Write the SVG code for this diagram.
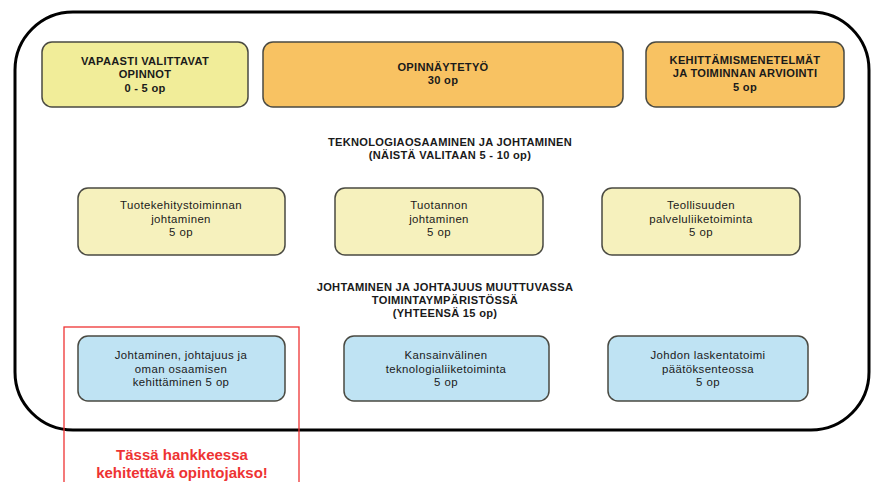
<svg xmlns="http://www.w3.org/2000/svg" width="873" height="482" viewBox="0 0 873 482">
<style>
.box{stroke:#4a4a42;stroke-width:1.5}
.y1{fill:#f1ed99}
.or{fill:#f8c262}
.y2{fill:#f6f1bd}
.bl{fill:#bfe3f3}
text{font-family:"Liberation Sans",Arial,sans-serif;font-size:11.4px;letter-spacing:0.4px;fill:#1a1a1a;text-anchor:middle}
.b{font-weight:bold;font-size:11.1px;letter-spacing:0.3px}
.red{fill:#ee3333;font-weight:bold;font-size:15px;letter-spacing:0}
</style>
<rect width="873" height="482" fill="#ffffff"/>
<rect id="frame" x="15" y="12" width="854" height="418" rx="58" ry="58" fill="none" stroke="#000" stroke-width="3"/>
<g id="n1"><rect class="box y1" x="42" y="42" width="206" height="65" rx="10"/>
<text class="b" x="145" y="65">VAPAASTI VALITTAVAT</text><text class="b" x="145" y="78">OPINNOT</text><text class="b" x="145" y="92">0 - 5 op</text></g>
<g id="n2"><rect class="box or" x="263" y="42" width="360" height="65" rx="10"/>
<text class="b" x="443" y="71">OPINNÄYTETYÖ</text><text class="b" x="443" y="84">30 op</text></g>
<g id="n3"><rect class="box or" x="646" y="42" width="198" height="65" rx="10"/>
<text class="b" x="745" y="64">KEHITTÄMISMENETELMÄT</text><text class="b" x="745" y="77">JA TOIMINNAN ARVIOINTI</text><text class="b" x="745" y="91">5 op</text></g>
<g id="h1"><text class="b" x="450" y="146">TEKNOLOGIAOSAAMINEN JA JOHTAMINEN</text><text class="b" x="450" y="159">(NÄISTÄ VALITAAN 5 - 10 op)</text></g>
<g id="n4"><rect class="box y2" x="78" y="188" width="207" height="67" rx="10"/>
<text x="181" y="209">Tuotekehitystoiminnan</text><text x="181" y="222.5">johtaminen</text><text x="181" y="236">5 op</text></g>
<g id="n5"><rect class="box y2" x="335" y="188" width="208" height="67" rx="10"/>
<text x="439" y="209">Tuotannon</text><text x="439" y="222.5">johtaminen</text><text x="439" y="236">5 op</text></g>
<g id="n6"><rect class="box y2" x="602" y="188" width="198" height="67" rx="10"/>
<text x="701" y="209">Teollisuuden</text><text x="701" y="222.5">palveluliiketoiminta</text><text x="701" y="236">5 op</text></g>
<g id="h2"><text class="b" x="445" y="291">JOHTAMINEN JA JOHTAJUUS MUUTTUVASSA</text><text class="b" x="445" y="304">TOIMINTAYMPÄRISTÖSSÄ</text><text class="b" x="445" y="317">(YHTEENSÄ 15 op)</text></g>
<g id="n7"><rect class="box bl" x="78" y="336" width="207" height="65" rx="10"/>
<text x="181" y="359">Johtaminen, johtajuus ja</text><text x="181" y="372.5">oman osaamisen</text><text x="181" y="386">kehittäminen 5 op</text></g>
<g id="n8"><rect class="box bl" x="344" y="336" width="205" height="65" rx="10"/>
<text x="446" y="359">Kansainvälinen</text><text x="446" y="372.5">teknologialiiketoiminta</text><text x="446" y="386">5 op</text></g>
<g id="n9"><rect class="box bl" x="608" y="336" width="200" height="65" rx="10"/>
<text x="708" y="359">Johdon laskentatoimi</text><text x="708" y="372.5">päätöksenteossa</text><text x="708" y="386">5 op</text></g>
<g id="highlight"><rect x="64" y="327" width="235" height="160" fill="none" stroke="#ee3333" stroke-width="1.3"/>
<text class="red" x="182" y="460">Tässä hankkeessa</text><text class="red" x="182" y="478">kehitettävä opintojakso!</text></g>
<g id="connectors"></g>
</svg>
